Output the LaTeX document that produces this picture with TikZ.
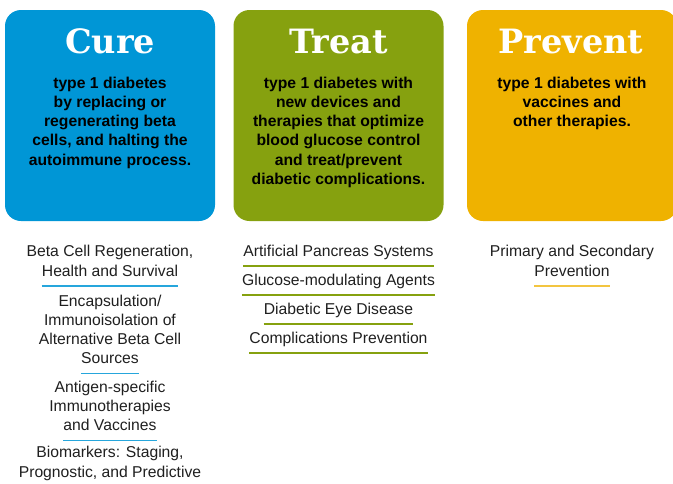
\documentclass[tikz,border=0pt]{standalone}
\usepackage{fontspec}
\setmainfont{Liberation Sans}
\newfontfamily\slabfont{DejaVu Serif}
\usetikzlibrary{positioning}

\begin{document}
\begin{tikzpicture}[
  x=1pt, y=-1pt,
  box/.style={rounded corners=16pt, minimum width=210pt, minimum height=211pt, inner sep=0pt},
  heading/.style={anchor=base, inner sep=0pt, text=white,
    font=\slabfont\bfseries\fontsize{33.5}{33.5}\selectfont},
  % multi-line nodes sit on the baseline of their last line
  blurb/.style={anchor=base, inner sep=0pt, align=center,
    font=\bfseries\fontsize{15.7}{19.3}\selectfont},
  item/.style={anchor=base, inner sep=0pt, align=center, text=black!88,
    font=\fontsize{15.7}{19.2}\selectfont},
]
%-------------------------------------------------------------
% Custom colors
\definecolor{cureblue}{RGB}{0,150,214}
\definecolor{treatgreen}{RGB}{134,161,15}
\definecolor{preventgold}{RGB}{239,178,0}
\newcommand{\colorisC}{cureblue}
\newcommand{\colorisT}{treatgreen}
\newcommand{\colorisP}{preventgold}

\tikzset{sep/.style args={color #1}{draw, line width=1.3pt, #1}}
\tikzset{sepC/.style={sep= color \colorisC!85}}
\tikzset{sepT/.style={sep= color \colorisT}}
\tikzset{sepP/.style={sep= color \colorisP!75}}

\useasboundingbox (0,0) rectangle (673,483);

%-------------------------------------------------------------
% Coloured boxes
\node[box, fill=\colorisC] (cure) at (110,115.5) {};
\node[box, fill=\colorisT] (treat) at (338.5,115.5) {};
\node[box, fill=\colorisP] (prevent) at (572,115.5) {};

\node[heading] (cureH) at (110,53.5) {Cure};
\node[heading] (treatH) at (338.5,53.5) {Treat};
\node[heading] (preventH) at (571,53.5) {Prevent};

\node[blurb] (cureB) at (110,165.2) {type 1 diabetes\\by replacing or\\regenerating beta\\cells, and halting the\\autoimmune process.};
\node[blurb] (treatB) at (338.5,184.5) {type 1 diabetes with\\new devices and\\therapies that optimize\\blood glucose control\\and treat/prevent\\diabetic complications.};
\node[blurb] (preventB) at (572,126.6) {type 1 diabetes with\\vaccines and\\other therapies.};

%============================================================
% Cure column
\node[item] (c1) at (110,256.5) {Beta Cell Regeneration,};
\node[item] (c1l) at (110,276) {Health and Survival};
\node[item] (c2) at (110,344.5) {Encapsulation/\\Immunoisolation of\\Alternative Beta Cell};
\node[item] (c2l) at (110,363.5) {Sources};
\node[item] (c3) at (110,411.5) {Antigen-specific\\Immunotherapies};
\node[item] (c3l) at (110,430.5) {and Vaccines};
\node[item] (c4) at (110,477) {Biomarkers: Staging,\\Prognostic, and Predictive};

\draw[sepC] ([yshift=-10pt]c1l.base west) -- ([yshift=-10pt]c1l.base east);
\draw[sepC] ([yshift=-10pt]c2l.base west) -- ([yshift=-10pt]c2l.base east);
\draw[sepC] ([yshift=-10pt]c3l.base west) -- ([yshift=-10pt]c3l.base east);

%============================================================
% Treat column
\node[item] (t1) at (338.5,256) {Artificial Pancreas Systems};
\node[item] (t2) at (338.5,285) {Glucose-modulating Agents};
\node[item] (t3) at (338.5,314) {Diabetic Eye Disease};
\node[item] (t4) at (338.5,343) {Complications Prevention};

\draw[sepT] ([yshift=-10pt]t1.base west) -- ([yshift=-10pt]t1.base east);
\draw[sepT] ([yshift=-10pt]t2.base west) -- ([yshift=-10pt]t2.base east);
\draw[sepT] ([yshift=-10pt]t3.base west) -- ([yshift=-10pt]t3.base east);
\draw[sepT] ([yshift=-10pt]t4.base west) -- ([yshift=-10pt]t4.base east);

%============================================================
% Prevent column
\node[item] (p1) at (572,256.5) {Primary and Secondary};
\node[item] (p1l) at (572,276) {Prevention};

\draw[sepP] ([yshift=-10pt]p1l.base west) -- ([yshift=-10pt]p1l.base east);

\end{tikzpicture}
\end{document}
